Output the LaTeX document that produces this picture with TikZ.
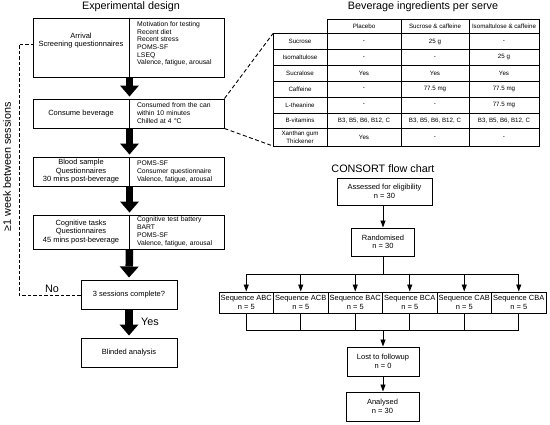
\documentclass[tikz,border=0pt]{standalone}
\usepackage{fontspec}
\setmainfont{Liberation Sans}
\usetikzlibrary{arrows.meta}
\begin{document}
\begin{tikzpicture}[x=1pt,y=-1pt,
  box/.style={draw, line width=1pt, inner sep=1pt, align=center, font=\fontsize{7.5}{8.5}\selectfont},
  rbox/.style={draw, line width=1pt, inner xsep=8pt, inner ysep=1pt, text width=79pt, align=left, font=\fontsize{6.8}{8}\selectfont},
  rtxt/.style={inner sep=0pt, align=left, font=\fontsize{6.8}{7.65}\selectfont},
  ltxt/.style={inner sep=0pt, align=center, font=\fontsize{7.5}{8}\selectfont},
  title/.style={inner sep=0pt, font=\fontsize{10.8}{12}\selectfont},
  tcell/.style={inner sep=0pt, align=center, font=\fontsize{6.2}{8}\selectfont},
  tline/.style={line width=0.9pt},
  bigarrow/.style={line width=7.5pt, -{Triangle[width=19pt,length=11pt,line width=0pt]}, shorten >=2pt},
  thinarrow/.style={line width=0.9pt, -{Triangle[width=5pt,length=7pt]}},
  thinline/.style={line width=0.9pt},
  dline/.style={line width=0.9pt, dash pattern=on 4pt off 2.5pt}
]
\useasboundingbox (0,0) rectangle (550,424);

% ---------- Experimental design ----------
\node[title] (t1) at (131,7) {Experimental design};

\node[box, minimum width=96pt, minimum height=59pt] (arrL) at (81,47.5) {};
\node[box, minimum width=95pt, minimum height=59pt] (arrR) at (176.5,47.5) {};
\node[ltxt] (arrLT) at (81,40.5) {Arrival\\Screening questionnaires};
\node[rtxt, anchor=north west] (arrRT) at (137,21.5) {Motivation for testing\\Recent diet\\Recent stress\\POMS-SF\\LSEQ\\Valence, fatigue, arousal};

\node[box, minimum width=96pt, minimum height=29pt] (conL) at (81,113.5) {Consume beverage};
\node[rbox, minimum height=29pt] (conR) at (176.5,113.5) {Consumed from the can\\within 10 minutes\\Chilled at 4 °C};

\node[box, minimum width=96pt, minimum height=29pt] (bloL) at (81,171.5) {Blood sample\\Questionnaires\\30 mins post-beverage};
\node[rbox, minimum height=29pt] (bloR) at (176.5,171.5) {POMS-SF\\Consumer questionnaire\\Valence, fatigue, arousal};

\node[box, minimum width=96pt, minimum height=34pt] (cogL) at (81,232) {Cognitive tasks\\Questionnaires\\45 mins post-beverage};
\node[rbox, minimum height=34pt] (cogR) at (176.5,232) {Cognitive test battery\\BART\\POMS-SF\\Valence, fatigue, arousal};

\node[box, minimum width=96pt, minimum height=29pt] (ses) at (129,294.5) {3 sessions complete?};
\node[box, minimum width=96pt, minimum height=29pt] (bli) at (129,352.5) {Blinded analysis};

\draw[bigarrow] (arrL.south east) -- (conL.north east);
\draw[bigarrow] (conL.south east) -- (bloL.north east);
\draw[bigarrow] (bloL.south east) -- (cogL.north east);
\draw[bigarrow] (cogL.south east) -- (ses.north);
\draw[bigarrow] (ses.south) -- (bli.north);

\node[title] (yes) at (150,322) {Yes};
\node[title] (no) at (52,289) {No};

\coordinate (loopA) at (19,295);
\coordinate (loopB) at (19,44);
\draw[line width=0.9pt, dash pattern=on 3.5pt off 2pt] (ses.west |- loopA) -- (loopA) -- (loopB) -- (loopB -| arrL.west);
\node[title, rotate=90] (gap) at (7,167) {≥1 week between sessions};

% ---------- Table ----------
\node[title] (t2) at (423,7) {Beverage ingredients per serve};
\coordinate (tTL) at (273,33.5);
\coordinate (tBL) at (273,146);
\draw[tline] (tTL) rectangle (539,146);
\draw[tline] (327,19) rectangle (539,33.5);
\foreach \xx in {327,401,469} \draw[tline] (\xx,19) -- (\xx,146);
\foreach \yy in {49.5,65,81,97,113,128.5} \draw[tline] (273,\yy) -- (539,\yy);

\node[tcell] (h1) at (364,26.25) {Placebo};
\node[tcell] (h2) at (435,26.25) {Sucrose \& caffeine};
\node[tcell] (h3) at (504,26.25) {Isomaltulose \& caffeine};
\foreach \l/\a/\b/\c/\y [count=\r] in {
  {Sucrose}/{-}/{25 g}/{-}/41.5,
  {Isomaltulose}/{-}/{-}/{25 g}/57.25,
  {Sucralose}/{Yes}/{Yes}/{Yes}/73,
  {Caffeine}/{-}/{77.5 mg}/{77.5 mg}/89,
  {L-theanine}/{-}/{-}/{77.5 mg}/105,
  {B-vitamins}/{B3, B5, B6, B12, C}/{B3, B5, B6, B12, C}/{B3, B5, B6, B12, C}/120.75,
  {Xanthan gum\\Thickener}/{Yes}/{-}/{-}/137.25}{
  \node[tcell] (r\r c0) at (300,\y) {\l};
  \node[tcell] (r\r c1) at (364,\y) {\a};
  \node[tcell] (r\r c2) at (435,\y) {\b};
  \node[tcell] (r\r c3) at (504,\y) {\c};
}

\draw[dline] (conR.north east) -- (tTL);
\draw[dline] (conR.south east) -- (tBL);

% ---------- CONSORT ----------
\node[title] (t3) at (383,169) {CONSORT flow chart};
\node[box, minimum width=95pt, minimum height=27pt] (ass) at (384.5,191.5) {Assessed for eligibility\\n = 30};
\node[box, minimum width=63pt, minimum height=28pt] (ran) at (383,242) {Randomised\\n = 30};
\foreach \s/\xx [count=\i] in {ABC/246.25,ACB/300.75,BAC/355.25,BCA/409.75,CAB/464.25,CBA/518.75}
  \node[box, minimum width=54.5pt, minimum height=21pt, inner sep=0pt] (seq\i) at (\xx,302.5) {Sequence \s\\n = 5};
\node[box, minimum width=72pt, minimum height=29pt] (lost) at (383,361.5) {Lost to followup\\n = 0};
\node[box, minimum width=73pt, minimum height=29pt] (ana) at (382.5,406.5) {Analysed\\n = 30};

\coordinate (split) at (383,274);
\coordinate (merge) at (383,330);
\draw[thinarrow] (ran.north |- ass.south) -- (ran.north);
\draw[thinline] (ran.south) -- (split);
\draw[thinline] (seq1.north |- split) -- (seq6.north |- split);
\foreach \i in {1,...,6} {
  \draw[thinarrow] (seq\i.north |- split) -- (seq\i.north);
  \draw[thinline] (seq\i.south) -- (seq\i.south |- merge);
}
\draw[thinline] (seq1.south |- merge) -- (seq6.south |- merge);
\draw[thinarrow] (merge) -- (lost.north);
\draw[thinarrow] (lost.south) -- (ana.north -| lost.south);
\end{tikzpicture}
\end{document}
